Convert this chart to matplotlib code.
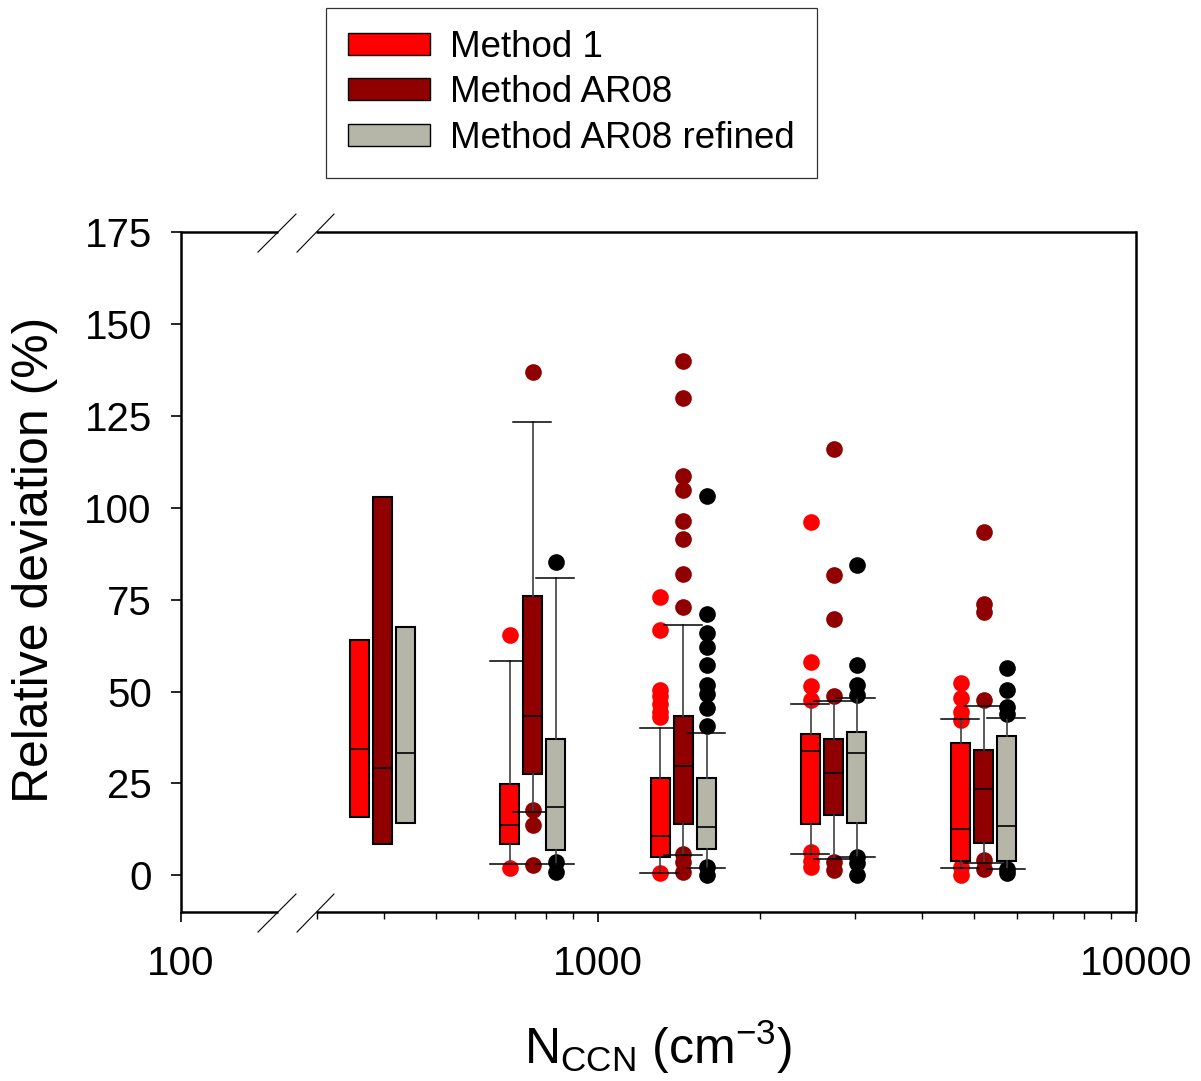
import matplotlib
matplotlib.use("Agg")
import matplotlib.pyplot as plt
from matplotlib.patches import Patch

plt.rcParams['font.family'] = ['Liberation Sans', 'DejaVu Sans']
plt.rcParams['mathtext.default'] = 'regular'

# centre (N_CCN) of each group of three boxes
group_ccn = [398, 757, 1442, 2746, 5218]
shift = 1.104  # spacing factor between boxes inside a group

methods = ['Method 1', 'Method AR08', 'Method AR08 refined']
box_colors = ['#ff0000', '#900000', '#b5b5a8']
dot_colors = ['#ff0000', '#900000', '#000000']

# Method 1
m1_q1 = [15.9, 8.6, 4.95, 13.9, 3.9]
m1_med = [34.4, 13.8, 10.8, 33.8, 12.6]
m1_q3 = [64.1, 24.9, 26.5, 38.4, 36.1]
m1_lo = [15.9, 3.0, 0.7, 5.9, 2.1]
m1_hi = [64.1, 58.2, 40.1, 46.5, 42.5]
m1_out = [[], [65.5, 2.1],
          [75.6, 66.7, 50.3, 48.9, 46.5, 44.5, 43.1, 0.7],
          [96.0, 58.1, 51.4, 47.6, 6.2, 4.0, 2.3],
          [52.2, 48.1, 44.4, 42.2, 2.3, 0.0]]

# Method AR08
ar_q1 = [8.6, 27.5, 13.9, 16.5, 8.8]
ar_med = [29.2, 43.4, 29.7, 27.7, 23.4]
ar_q3 = [102.9, 76.0, 43.3, 37.2, 34.2]
ar_lo = [8.6, 17.3, 5.6, 4.3, 3.4]
ar_hi = [102.9, 123.2, 68.0, 47.4, 46.0]
ar_out = [[], [136.9, 17.8, 13.6, 2.7],
          [140.0, 129.9, 108.7, 104.8, 96.5, 91.5, 82.1, 72.9, 5.9, 3.6, 0.9],
          [115.9, 81.8, 69.6, 48.8, 3.6, 1.5],
          [93.3, 73.9, 71.7, 47.8, 4.1, 1.8]]

# Method AR08 refined
rf_q1 = [14.1, 6.8, 7.1, 14.1, 3.9]
rf_med = [33.4, 18.6, 13.2, 33.2, 13.5]
rf_q3 = [67.6, 37.0, 26.5, 39.0, 38.0]
rf_lo = [14.1, 3.0, 2.0, 5.0, 1.6]
rf_hi = [67.6, 80.9, 38.7, 48.3, 42.9]
rf_out = [[], [85.2, 3.6, 0.9],
          [103.3, 71.0, 65.9, 62.0, 57.2, 51.8, 49.4, 45.5, 40.6, 2.3, 0.0],
          [84.4, 57.2, 51.7, 49.0, 5.0, 3.4, 0.0],
          [56.5, 50.3, 45.8, 44.0, 1.8, 0.5]]

series = [(m1_q1, m1_med, m1_q3, m1_lo, m1_hi, m1_out),
          (ar_q1, ar_med, ar_q3, ar_lo, ar_hi, ar_out),
          (rf_q1, rf_med, rf_q3, rf_lo, rf_hi, rf_out)]

fig = plt.figure(figsize=(12.01, 10.81), dpi=100)
ax = fig.add_axes([0.1507, 0.1563, 0.7952, 0.6290])
ax.set_xscale('log')

half_box = 10 ** 0.0177 - 10 ** -0.0177
half_cap = 10 ** 0.0353 - 10 ** -0.0353

for k, (q1, med, q3, lo, hi, out) in enumerate(series):
    for g, c in enumerate(group_ccn):
        pos = c * shift ** (k - 1)
        stats = [dict(q1=q1[g], med=med[g], q3=q3[g], whislo=lo[g], whishi=hi[g], fliers=out[g])]
        has_whisk = hi[g] != q3[g]
        ax.bxp(stats, positions=[pos], widths=[pos * half_box], capwidths=[pos * half_cap],
               patch_artist=True, manage_ticks=False, showcaps=has_whisk,
               boxprops=dict(facecolor=box_colors[k], edgecolor='black', linewidth=1.5, zorder=3 + k),
               medianprops=dict(color='black', linewidth=1.2, zorder=3.1 + k),
               whiskerprops=dict(color='#404040', linewidth=1.2, zorder=3 + k),
               capprops=dict(color='black', linewidth=1.1, zorder=3.1 + k),
               flierprops=dict(marker='o', markerfacecolor=dot_colors[k], markeredgecolor='none',
                               markersize=12, zorder=2))

xmin = 168
ax.set_xlim(xmin, 10000)
ax.set_ylim(-10, 175)
ax.set_yticks([0, 25, 50, 75, 100, 125, 150, 175])
ax.set_xticks([xmin, 1000, 10000])
ax.set_xticklabels(['100', '1000', '10000'])
ax.set_xticks([300, 400, 500, 600, 700, 800, 900,
               2000, 3000, 4000, 5000, 6000, 7000, 8000, 9000], minor=True)
ax.xaxis.set_minor_formatter(plt.NullFormatter())
ax.tick_params(axis='both', which='major', direction='out', length=7, width=1.2, labelsize=29)
ax.tick_params(axis='x', which='major', pad=17)
ax.tick_params(axis='y', which='major', pad=14)
ax.tick_params(axis='x', which='minor', direction='out', length=5, width=1.0)
ax.tick_params(top=False, right=False, which='both')

# spines with axis break
ax.spines['top'].set_visible(False)
ax.spines['bottom'].set_visible(False)
for s in ['left', 'right']:
    ax.spines[s].set_linewidth(1.8)
for yy in [0, 1]:
    ax.plot([0, 0.1016], [yy, yy], transform=ax.transAxes, color='black', lw=1.8, clip_on=False,
            solid_capstyle='butt')
    ax.plot([0.1414, 1], [yy, yy], transform=ax.transAxes, color='black', lw=1.8, clip_on=False,
            solid_capstyle='butt')
    for x0, x1 in [(0.0806, 0.1204), (0.1215, 0.1602)]:
        ax.plot([x0, x1], [yy - 0.0294, yy + 0.0265], transform=ax.transAxes, color='black',
                lw=0.8, clip_on=False)

ax.set_ylabel('Relative deviation (%)', fontsize=36)
ax.yaxis.set_label_coords(-0.129, 0.518)
ax.set_xlabel('N$_{CCN}$ (cm$^{-3}$)', fontsize=36, labelpad=25)

handles = [Patch(facecolor=box_colors[k], edgecolor='black', linewidth=1.0, label=methods[k])
           for k in range(3)]
leg = fig.legend(handles=handles, loc='upper left', bbox_to_anchor=(326 / 1201, 1 - 8 / 1081),
                 fontsize=26.5, frameon=True, fancybox=False, edgecolor='black', borderaxespad=0,
                 handlelength=2.22, handleheight=0.55, labelspacing=0.28, handletextpad=0.55,
                 borderpad=0.6)
leg.get_frame().set_linewidth(0.9)

fig.savefig('out.png', dpi=100)
